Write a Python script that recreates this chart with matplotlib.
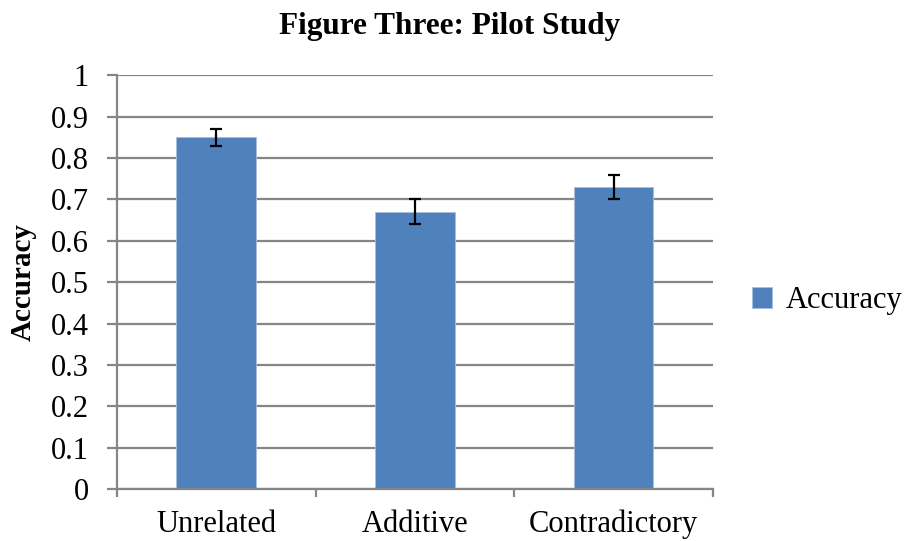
import matplotlib
matplotlib.use('Agg')
import matplotlib.pyplot as plt

# Data
categories = ['Unrelated', 'Additive', 'Contradictory']
accuracy = [0.85, 0.67, 0.73]
errors = [0.02, 0.03, 0.03]
y_ticks = [0, 0.1, 0.2, 0.3, 0.4, 0.5, 0.6, 0.7, 0.8, 0.9, 1]
y_tick_labels = ['0', '0.1', '0.2', '0.3', '0.4', '0.5', '0.6', '0.7', '0.8', '0.9', '1']

plt.rcParams['font.family'] = ['Liberation Serif', 'DejaVu Serif']

fig = plt.figure(figsize=(9.06, 5.41), dpi=100)
ax = fig.add_axes([0.129, 0.096, 0.658, 0.765])

x = list(range(len(categories)))
grid_col = '#868686'

ax.set_axisbelow(True)
ax.yaxis.grid(True, color=grid_col, linewidth=1.6)
ax.bar(x, accuracy, width=0.40, color='#4F81BD', edgecolor='#A7BFDE',
       linewidth=0.6, label='Accuracy', zorder=2)
ax.errorbar(x, accuracy, yerr=errors, fmt='none', ecolor='black',
            elinewidth=1.6, capsize=4, capthick=1.6, zorder=3)

ax.set_xlim(-0.5, 2.5)
ax.set_ylim(0, 1)
ax.set_yticks(y_ticks)
ax.set_yticklabels(y_tick_labels, fontsize=22)
ax.set_xticks(x)
ax.set_xticklabels(categories, fontsize=22)
ax.set_xticks([-0.5, 0.5, 1.5, 2.5], minor=True)
ax.tick_params(axis='x', which='major', length=0, pad=15)
ax.tick_params(axis='x', which='minor', length=6, width=1.6, color=grid_col, direction='out')
ax.tick_params(axis='y', length=7, width=1.6, color=grid_col, direction='out', pad=13)

for side in ['top', 'right']:
    ax.spines[side].set_visible(False)
for side in ['left', 'bottom']:
    ax.spines[side].set_color(grid_col)
    ax.spines[side].set_linewidth(1.6)

ax.set_ylabel('Accuracy', fontsize=21, fontweight='bold')
ax.yaxis.set_label_coords(-0.135, 0.5)
fig.suptitle('Figure Three: Pilot Study', fontsize=22.5, fontweight='bold', x=0.496, y=0.978)

fig.legend(loc='center left', bbox_to_anchor=(0.830, 0.444), frameon=False,
           fontsize=22, handlelength=0.65, handleheight=0.65, handletextpad=0.45,
           borderpad=0, borderaxespad=0)

fig.savefig('out.png', dpi=100)
